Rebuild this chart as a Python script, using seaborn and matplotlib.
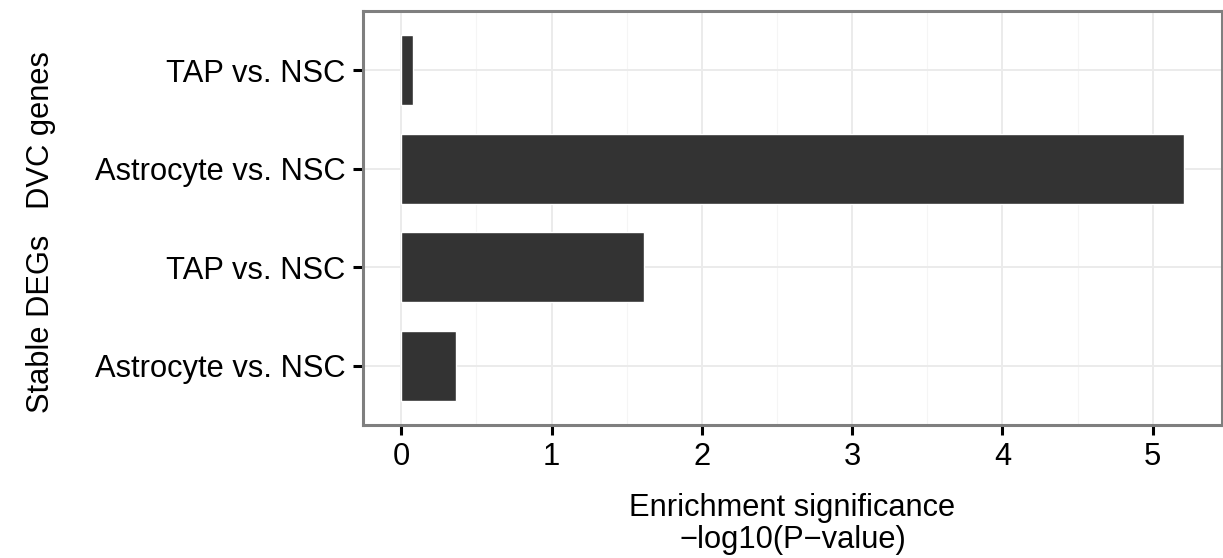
import matplotlib
matplotlib.use("Agg")
import matplotlib.pyplot as plt
from matplotlib.ticker import MultipleLocator
import seaborn as sns
import pandas as pd

# Enrichment of the gene sets (top to bottom)
groups = ["DVC genes", "DVC genes", "Stable DEGs", "Stable DEGs"]
comparisons = ["TAP vs. NSC", "Astrocyte vs. NSC", "TAP vs. NSC", "Astrocyte vs. NSC"]
neg_log10_p = [0.08, 5.21, 1.615, 0.365]

df = pd.DataFrame({
    "key": [f"{g}|{c}" for g, c in zip(groups, comparisons)],
    "comparison": comparisons,
    "value": neg_log10_p,
})

sns.set_theme(style="white")
plt.rcParams["font.family"] = ["Liberation Sans", "DejaVu Sans"]

FS = 22.2

fig = plt.figure(figsize=(12.23, 5.58), dpi=100)
ax = fig.add_axes([0.2968, 0.2384, 0.7022, 0.7416])

sns.barplot(data=df, x="value", y="key", orient="h", color="#333333",
            saturation=1, width=0.71, ax=ax, zorder=3)

ax.set_xlim(-0.255, 5.46)
ax.set_ylim(3.6, -0.6)
ax.xaxis.set_major_locator(MultipleLocator(1))
ax.xaxis.set_minor_locator(MultipleLocator(0.5))
ax.set_yticks(range(len(comparisons)))
ax.set_yticklabels(comparisons)

# grid: major and minor lines
ax.grid(which="major", color="#ebebeb", linewidth=1.4, zorder=0)
ax.grid(which="minor", axis="x", color="#f5f5f5", linewidth=0.8, zorder=0)
ax.set_axisbelow(True)

for s in ax.spines.values():
    s.set_visible(True)
    s.set_color("#7f7f7f")
    s.set_linewidth(2.2)

ax.tick_params(axis="both", which="major", length=7.5, width=2.2, color="black",
               labelsize=FS, labelcolor="black", pad=5)
ax.tick_params(axis="x", which="minor", length=0)
ax.tick_params(axis="y", left=True)
ax.tick_params(axis="x", bottom=True)

ax.set_xlabel("Enrichment significance\n\u2212log10(P\u2212value)", fontsize=FS,
              color="black", labelpad=15, linespacing=1.08)
ax.set_ylabel("Stable DEGs   DVC genes", fontsize=FS, color="black", labelpad=28)
ax.yaxis.label.set_y(0.466)

fig.savefig("out.png", dpi=100)
